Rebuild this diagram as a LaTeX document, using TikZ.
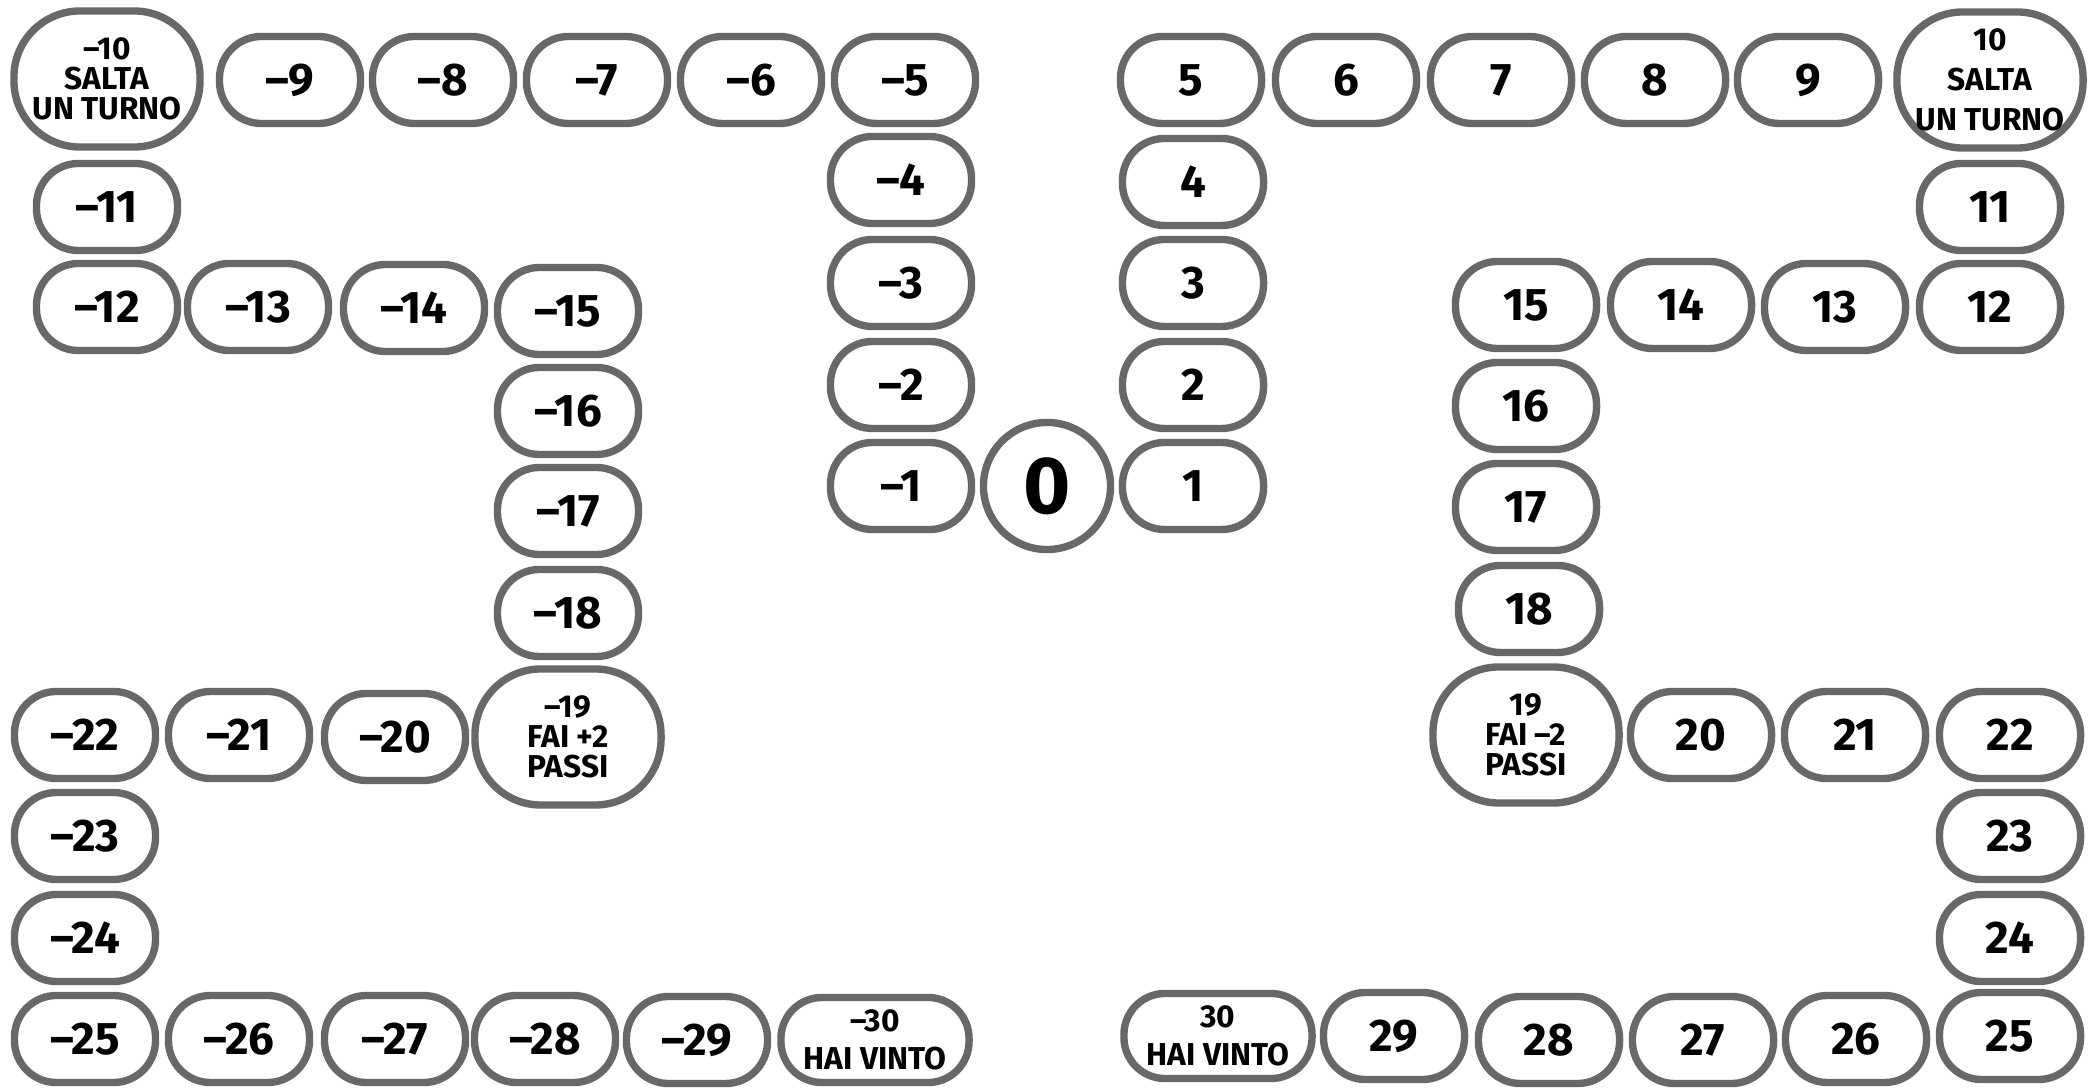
\documentclass[tikz,border=0pt]{standalone}
\usepackage{fontspec}
\setmainfont{Fira Sans}
\usepackage{tikz}
\usetikzlibrary{positioning}
\definecolor{bordo}{HTML}{686868}

\begin{document}
\begin{tikzpicture}[
  x=0.01cm, y=-0.01cm,
  pill/.style={draw=bordo, line width=2.1pt, fill=white, rounded corners=0.42cm,
    minimum width=1.41cm, minimum height=0.87cm, inner sep=0pt,
    font=\fontsize{13}{15}\selectfont\bfseries},
  bigpill/.style={pill, minimum width=1.86cm, minimum height=1.36cm,
    rounded corners=0.66cm, align=center, font=\fontsize{9}{8.5}\selectfont\bfseries},
  endpill/.style={pill, minimum width=1.88cm, minimum height=0.85cm,
    rounded corners=0.41cm, align=center, font=\fontsize{9}{10.8}\selectfont\bfseries},
]
\useasboundingbox (0,0) rectangle (2094,1089);

% Start
\node[draw=bordo, line width=2.1pt, circle, minimum size=1.27cm, inner sep=0pt,
  font=\fontsize{23}{25}\selectfont\bfseries] (z0) at (1047,486) {0};

% Negative track
\foreach \n/\x/\y in {1/901/486, 2/901/385, 3/901/283, 4/901/180, 5/905/80,
  6/751/80, 7/597/80, 8/443/80, 9/290/80, 11/107/207, 12/107/307, 13/258/307,
  14/414/308, 15/568/311, 16/568/411, 17/568/511, 18/568/613, 20/395/737,
  21/239/735, 22/85/735, 23/85/836, 24/85/938, 25/85/1039, 26/239/1039,
  27/395/1039, 28/545/1039, 29/697/1040} {
  \node[pill] (m\n) at (\x,\y) {--\n};
}
\node[bigpill] (m10) at (107,79) {--10\\SALTA\\UN TURNO};
\node[bigpill] (m19) at (568,737) {--19\\FAI +2\\PASSI};
\node[endpill] (m30) at (875,1040) {--30\\HAI VINTO};

% Positive track
\foreach \n/\x/\y in {1/1193/486, 2/1193/385, 3/1193/283, 4/1193/182, 5/1191/80,
  6/1346/80, 7/1501/80, 8/1655/80, 9/1808/80, 11/1990/207, 12/1990/307,
  13/1835/307, 14/1681/305, 15/1526/305, 16/1526/406, 17/1526/507,
  18/1529/609, 20/1701/735, 21/1855/735, 22/2010/735, 23/2010/836,
  24/2010/938, 25/2010/1036, 26/1856/1039, 27/1703/1040, 28/1549/1040,
  29/1394/1036} {
  \node[pill] (p\n) at (\x,\y) {\n};
}
\node[bigpill, font=\fontsize{9}{11.4}\selectfont\bfseries] (p10) at (1990,80) {10\\SALTA\\UN TURNO};
\node[bigpill] (p19) at (1526,735) {19\\FAI --2\\PASSI};
\node[endpill] (p30) at (1218,1036) {30\\HAI VINTO};

\end{tikzpicture}
\end{document}
